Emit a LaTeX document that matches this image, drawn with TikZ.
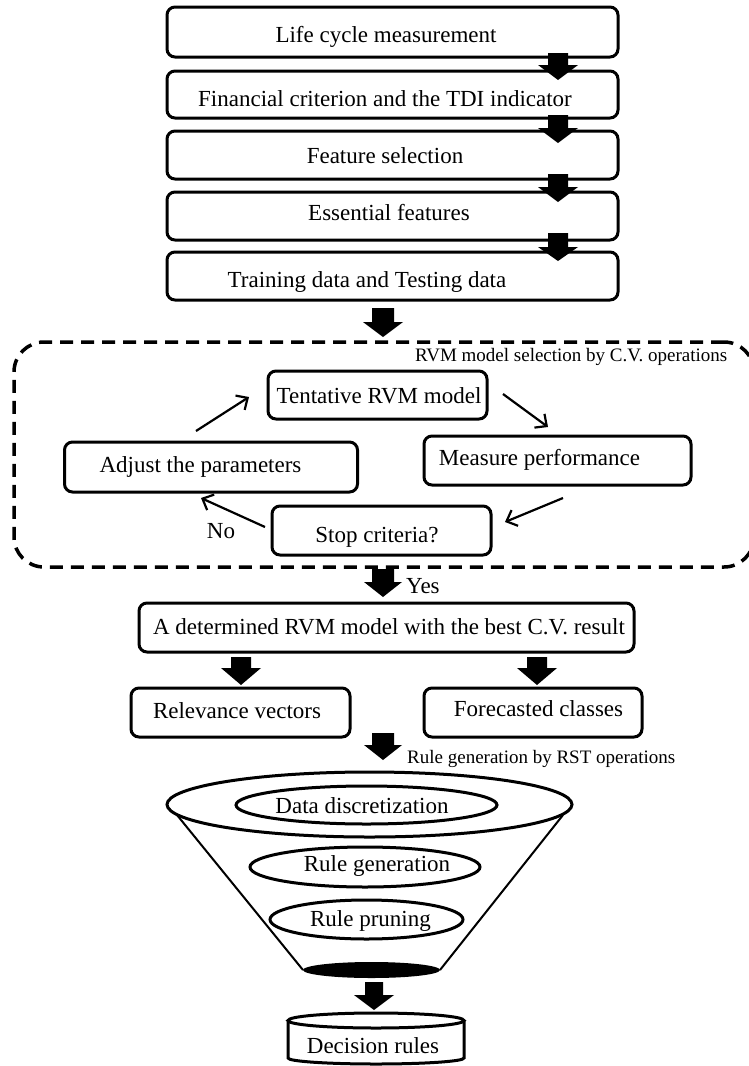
\documentclass[tikz,border=0pt]{standalone}
\usepackage{fontspec}
\setmainfont{Liberation Serif}
\usetikzlibrary{arrows.meta}
\newcommand\blkarrow[6]{%
  \fill (#1-#5,#2) -- (#1+#5,#2) -- (#1+#5,#3) -- (#1+#6,#3) -- (#1,#4) -- (#1-#6,#3) -- (#1-#5,#3) -- cycle;}
\begin{document}
\begin{tikzpicture}[x=1pt,y=-1pt,
  box/.style={draw,line width=3pt,rounded corners=8pt,inner sep=0pt},
  txt/.style={font=\fontsize{23}{27}\selectfont,inner sep=0pt,anchor=base},
  small/.style={font=\fontsize{19}{22}\selectfont,inner sep=0pt,anchor=base west},
  thinarrow/.style={line width=2.2pt,-{Straight Barb[length=9pt,width=17pt,line width=2.2pt]}},
  ell/.style={draw,line width=3pt,fill=white}]
\useasboundingbox (0,0) rectangle (749,1066);
% top chain
\node[box,minimum width=451pt,minimum height=50pt] (b1) at (392.5,32) {};
\node[box,minimum width=451pt,minimum height=47pt] (b2) at (392.5,94.5) {};
\node[box,minimum width=451pt,minimum height=48pt] (b3) at (392.5,155) {};
\node[box,minimum width=451pt,minimum height=48pt] (b4) at (392.5,216) {};
\node[box,minimum width=451pt,minimum height=48pt] (b5) at (392.5,276) {};
\node[txt] (t1) at (386,42) {Life cycle measurement};
\node[txt] (t2) at (385,106) {Financial criterion and the TDI indicator};
\node[txt] (t3) at (385,163) {Feature selection};
\node[txt] (t4) at (389,220) {Essential features};
\node[txt] (t5) at (367,287) {Training data and Testing data};
\blkarrow{558}{53}{65}{80}{10}{20}
\blkarrow{558}{115}{128}{143}{10}{20}
\blkarrow{558}{174}{187}{202}{10}{20}
\blkarrow{558}{233}{247}{261}{10}{20}
\blkarrow{383}{308}{322}{337}{11}{20}
% C.V. loop
\node[draw,line width=3.5pt,dash pattern=on 13pt off 8pt,rounded corners=30pt,
      minimum width=740pt,minimum height=225pt,inner sep=0pt] (cv) at (384,454.5) {};
\node[small] (cvl) at (415,361) {RVM model selection by C.V. operations};
\node[box,minimum width=219pt,minimum height=48pt] (tent) at (377.5,395) {};
\node[box,minimum width=293pt,minimum height=50pt] (adj) at (211,467) {};
\node[box,minimum width=267pt,minimum height=49pt] (meas) at (557.5,460.5) {};
\node[box,minimum width=219pt,minimum height=49pt] (stop) at (381.5,530.5) {};
\node[txt] (tentt) at (379,403) {Tentative RVM model};
\node[txt] (adjt) at (200.5,472) {Adjust the parameters};
\node[txt] (meast) at (539.5,465) {Measure performance};
\node[txt] (stopt) at (377,542) {Stop criteria?};
\node[txt] (no) at (221,538) {No};
\coordinate (a1s) at (196,431); \coordinate (a1e) at (249,397);
\coordinate (a2s) at (503,394); \coordinate (a2e) at (548,427);
\coordinate (a3s) at (563,498); \coordinate (a3e) at (505,522);
\coordinate (a4s) at (265,527); \coordinate (a4e) at (201,498);
\draw[thinarrow] (a1s) -- (a1e);
\draw[thinarrow] (a2s) -- (a2e);
\draw[thinarrow] (a3s) -- (a3e);
\draw[thinarrow] (a4s) -- (a4e);
% result
\blkarrow{383}{569}{582}{597}{11}{19}
\node[txt,anchor=base west] (yes) at (406,593) {Yes};
\node[box,minimum width=495pt,minimum height=49pt] (det) at (386.5,627.5) {};
\node[txt] (dett) at (389,634) {A determined RVM model with the best C.V. result};
\blkarrow{241}{657}{668}{685}{10}{20}
\blkarrow{537}{657}{668}{685}{10}{20}
\node[box,minimum width=219pt,minimum height=49pt] (rel) at (240.5,712.5) {};
\node[box,minimum width=218pt,minimum height=49pt] (fc) at (533,712.5) {};
\node[txt] (relt) at (237,718) {Relevance vectors};
\node[txt] (fct) at (538.5,716) {Forecasted classes};
\blkarrow{383}{733}{745}{760}{11}{19}
\node[small] (rstl) at (407,763) {Rule generation by RST operations};
% funnel
\coordinate (fl1) at (177,815); \coordinate (fl2) at (303,970);
\coordinate (fr1) at (563,815); \coordinate (fr2) at (440,970);
\draw[line width=2pt] (fl1) -- (fl2);
\draw[line width=2pt] (fr1) -- (fr2);
\draw[line width=3pt] (369.5,804.5) ellipse [x radius=202.5, y radius=32.5];
\draw[line width=3pt] (366.5,805) ellipse [x radius=130.5, y radius=19];
\draw[line width=3pt] (365,867) ellipse [x radius=115, y radius=20];
\draw[line width=3pt] (366.5,919.5) ellipse [x radius=96.5, y radius=19.5];
\fill (371.5,970) ellipse [x radius=68.5, y radius=8];
\node[txt] (ddt) at (362,813) {Data discretization};
\node[txt] (rgt) at (377,871) {Rule generation};
\node[txt] (rpt) at (370.5,926) {Rule pruning};
\blkarrow{374}{982}{995}{1010}{9}{20}
% decision rules cylinder
\draw[line width=3pt] (288,1020.5) -- (288,1058) arc[start angle=180,end angle=0,x radius=88,y radius=6] -- (464,1020.5);
\draw[line width=3pt] (376,1020.5) ellipse [x radius=88, y radius=7.5];
\node[txt] (drt) at (373,1053) {Decision rules};
\end{tikzpicture}
\end{document}
